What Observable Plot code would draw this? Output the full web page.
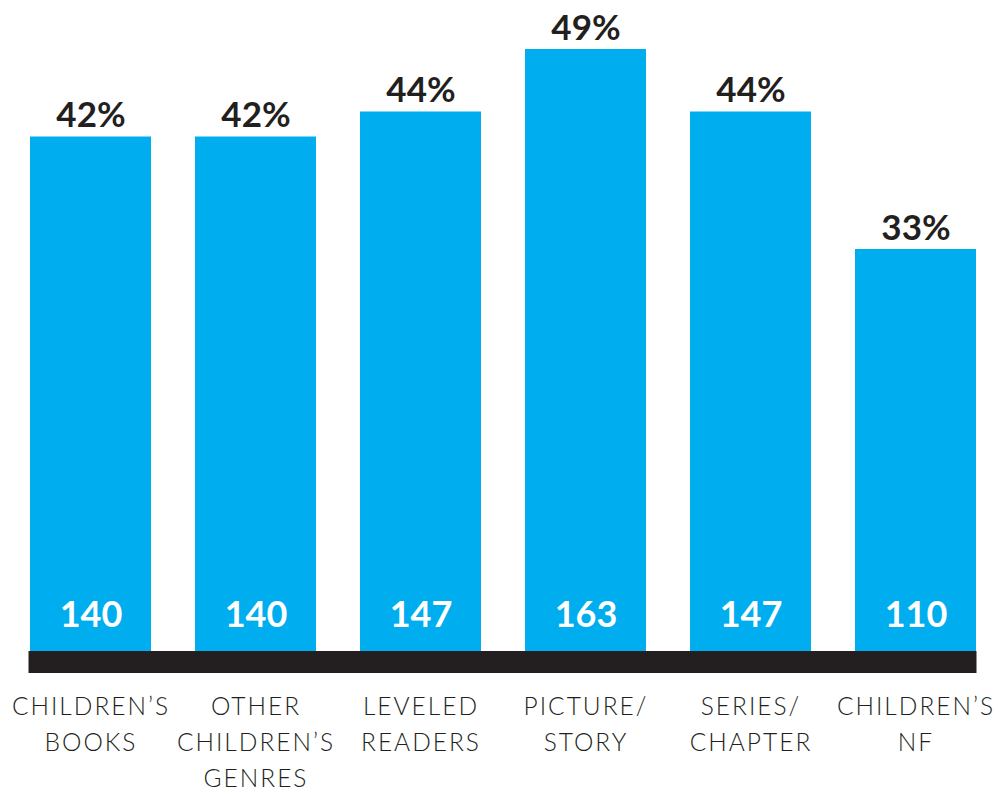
<!DOCTYPE html>
<html><head><meta charset="utf-8">
<script src="https://cdn.jsdelivr.net/npm/d3@7"></script>
<script src="https://cdn.jsdelivr.net/npm/@observablehq/plot@0.6"></script>
<style>
body{margin:0;background:#fff}
#chart svg{display:block}
#chart g[aria-label="x-axis tick label"] text{letter-spacing:2px}
</style>
</head><body><div id="chart"></div>
<script>
const categories = ["CHILDREN’S\nBOOKS", "OTHER\nCHILDREN’S\nGENRES", "LEVELED\nREADERS", "PICTURE/\nSTORY", "SERIES/\nCHAPTER", "CHILDREN’S\nNF"];
const percents = [42, 42, 44, 49, 44, 33];
const counts = [140, 140, 147, 163, 147, 110];

const data = categories.map((c, i) => ({category: c, percent: percents[i], count: counts[i]}));

const chart = Plot.plot({
  width: 1007,
  height: 795,
  marginTop: 49,
  marginBottom: 133.5,
  marginLeft: 28.5,
  marginRight: 30.5,
  style: {fontFamily: "Lato, 'Open Sans', sans-serif", background: "#fff", color: "#231f20"},
  x: {domain: categories, paddingInner: 0.268, paddingOuter: 0, label: null},
  y: {domain: [0, 49], axis: null},
  marks: [
    Plot.barY(data, {x: "category", y: "percent", fill: "#00aeef"}),
    Plot.ruleY([0], {stroke: "#231f20", strokeWidth: 22}),
    Plot.text(data, {x: "category", y: "percent", text: d => d.percent + "%", lineAnchor: "bottom", dy: -10, fontSize: 35, fontWeight: 700, fill: "#231f20"}),
    Plot.text(data, {x: "category", y: 0, text: d => String(d.count), lineAnchor: "bottom", dy: -35, fontSize: 36, fontWeight: 700, fill: "#ffffff"}),
    Plot.axisX({tickSize: 0, tickPadding: 28, fontSize: 24.5, lineHeight: 1.46, fontWeight: 300, fill: "#231f20", label: null})
  ]
});
document.getElementById("chart").append(chart);
</script>
</body></html>
